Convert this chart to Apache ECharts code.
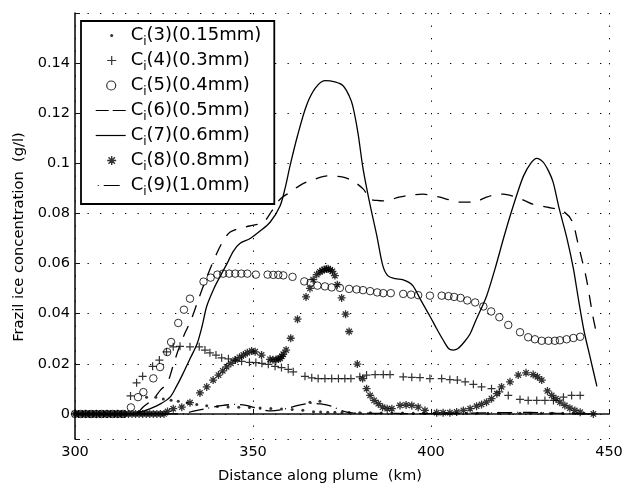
<!DOCTYPE html>
<html>
<head>
<meta charset="utf-8">
<script src="https://cdn.jsdelivr.net/npm/echarts@6.0.0/dist/echarts.min.js"></script>
<style>
  html, body { margin: 0; padding: 0; background: #fff; }
  #chart { width: 643px; height: 492px; }
</style>
</head>
<body>
<div id="chart"></div>
<script>
// legend labels (after the "C" + subscript "i")
const labels = ['(3)(0.15mm)', '(4)(0.3mm)', '(5)(0.4mm)', '(6)(0.5mm)', '(7)(0.6mm)', '(8)(0.8mm)', '(9)(1.0mm)'];

// [distance km, concentration g/l]
const c3 = [[300,0],[301,0],[302,0],[303,0],[304,0],[305,0],[306,0],[307,0],[308,0],[309,0],[310,0],[311,0],[312,0],[313,0],[314,0],[315,0],[316,0],[317,0],[318,0.001],
  [320.1,0.0067],[322.7,0.0067],[324.8,0.006],[327,0.0055],[329,0.0051],[331.5,0.0045],[334.2,0.0038],[337,0.0033],[340,0.003],[343,0.0028],[346,0.0027],[349,0.0026],
  [352,0.0024],[355,0.0022],[358,0.002],[361,0.0018],[364,0.0015],[366,0.0047],[368.8,0.0051],[367,0.0009],[369,0.0008],[371,0.0007],[373,0.0007],[375,0.0006],
  [377,0.0006],[380,0.0005],[383,0.0005],[386,0.0004],[389,0.0004],[392,0.0004],[395,0.0003],[398,0.0003],[401,0.0003],[404,0.0003],[407,0.0003],[410,0.0003],
  [413,0.0003],[416,0.0003],[419,0.0003],[422,0.0003],[425,0.0003],[428,0.0003],[431,0.0003],[434,0.0003],[437,0.0003],[440,0.0003],[443,0.0003]];

const c4 = [[300,0],[301,0],[302,0],[303,0],[304,0],[305,0],[306,0],[307,0],[308,0],[309,0],[310,0],[311,0],[312,0],[313,0],[314,0],
  [315.6,0.0072],[317.3,0.0124],[319,0.015],[321.8,0.019],[323.7,0.0215],[325.7,0.0248],[327.6,0.0268],[329.5,0.027],[332.3,0.0268],[334.9,0.0268],
  [336.5,0.0255],[337.9,0.0244],[339.6,0.0235],[341.2,0.0224],[343.1,0.022],[345,0.0215],[346.8,0.021],[349,0.0206],[350.8,0.0205],[352.5,0.0202],
  [354.3,0.0198],[356.2,0.019],[358,0.0185],[359.9,0.0178],[361.3,0.0168],[364.6,0.015],[366.5,0.0144],[368.3,0.0141],[370.2,0.0141],[372.1,0.0141],
  [374,0.0141],[375.8,0.0141],[377.5,0.0141],[380,0.0148],[381.9,0.0155],[384.3,0.0157],[386.6,0.0157],[388.5,0.0157],[392.2,0.0148],[394.6,0.0146],
  [396.9,0.0145],[399.7,0.0141],[403,0.0141],[405.3,0.0137],[407.4,0.0135],[409.6,0.0128],[411.9,0.0118],[414.2,0.0108],[417,0.0101],[419.2,0.0088],
  [421.7,0.0074],[425,0.0058],[427.3,0.0054],[429.7,0.0054],[432,0.0054],[434.4,0.0054],[437.2,0.0067],[439.5,0.0074],[441.9,0.0074]];

const c5 = [[300,0],[301.5,0],[303,0],[304.5,0],[306,0],[307.5,0],[309,0],[310.5,0],[312,0],[313.5,0],
  [315.7,0.0026],[317.7,0.0067],[319.2,0.0087],[322,0.0142],[323.9,0.0187],[325.9,0.0247],[327,0.0287],[329,0.0363],[330.6,0.0416],[332.3,0.046],
  [336.1,0.0528],[338.1,0.0544],[340,0.0556],[341.6,0.056],[343.3,0.056],[345,0.056],[346.7,0.056],[348.4,0.056],[350.8,0.0556],[354.1,0.0556],
  [355.7,0.0555],[357.1,0.0555],[358.5,0.0553],[361.1,0.0547],[364.4,0.0529],[366.2,0.0524],[368.1,0.0512],[370.2,0.0509],[372.1,0.0505],[374.4,0.0503],
  [377,0.0499],[379.1,0.0497],[380.9,0.0494],[382.9,0.049],[384.9,0.0485],[386.6,0.0482],[388.7,0.0482],[392.2,0.0479],[394.4,0.0476],[396.4,0.0474],
  [399.7,0.0472],[403,0.0472],[404.9,0.047],[406.5,0.0467],[408.3,0.0463],[410.2,0.0453],[412.4,0.0445],[414.7,0.0429],[416.9,0.0409],[419.2,0.0386],
  [421.7,0.0355],[425,0.0326],[427.3,0.0306],[429.2,0.0298],[431.1,0.0292],[433,0.0292],[434.8,0.0292],[436.2,0.0294],[438.1,0.0298],[440,0.0303],[441.9,0.0308]];

const c6 = [[300,0],[310,0],[317,0],[319,0.0026],[322,0.006],[324,0.0095],[326,0.0126],[327.5,0.019],[329,0.0255],[330.8,0.032],[332.6,0.0375],
  [334.5,0.045],[336.3,0.052],[338,0.058],[339.8,0.064],[341.6,0.069],[343.5,0.0725],[346,0.074],[349,0.075],[352.9,0.0765],[355.3,0.081],[357.6,0.0857],
  [360.4,0.0885],[363,0.091],[365,0.0925],[368,0.094],[370.8,0.095],[375.3,0.0945],[378,0.093],[381,0.0897],[382.9,0.0857],[384.8,0.0852],[386.5,0.085],
  [388,0.0852],[391,0.0865],[394,0.0873],[397.8,0.0877],[400,0.0872],[402.5,0.0865],[405,0.0855],[408,0.0845],[411.8,0.0845],[415.6,0.0865],[418,0.0875],
  [420.2,0.0877],[422,0.0873],[424,0.0865],[426.5,0.085],[428.6,0.0837],[432.6,0.0825],[437,0.081],[439.6,0.077],[441.3,0.068],[442.5,0.061],
  [443.7,0.0536],[445.5,0.0388],[446.2,0.034]];

const c7 = [[300,0],[310,0],[316,0],[319,0.001],[321,0.002],[324,0.004],[326.7,0.0067],[328.5,0.011],[330.3,0.016],[332.3,0.022],[334.3,0.028],
  [335.7,0.035],[337,0.043],[339,0.05],[340.8,0.055],[342.7,0.06],[344.5,0.065],[346.3,0.068],[349.2,0.07],[352,0.073],[354.8,0.0765],[357.6,0.083],
  [359,0.09],[360.4,0.099],[362.5,0.111],[365,0.123],[367.5,0.13],[370.2,0.133],[373,0.1325],[375.3,0.131],[377,0.127],[378,0.123],[379.5,0.112],
  [380.9,0.098],[382.8,0.084],[384.8,0.071],[386.5,0.059],[388,0.055],[390,0.054],[392,0.0536],[393.8,0.0525],[395,0.051],[397.3,0.045],[399.7,0.039],
  [401.6,0.034],[403.4,0.0295],[405,0.026],[406.2,0.0255],[407.5,0.026],[409.5,0.029],[411,0.032],[412.5,0.037],[415.6,0.047],[418,0.058],[420.3,0.0697],
  [422,0.078],[424,0.087],[426,0.095],[428,0.1],[429.7,0.102],[431.5,0.1005],[433,0.097],[434.3,0.0925],[436,0.082],[438.2,0.07],[440,0.058],
  [441.5,0.045],[443,0.033],[444.8,0.022],[446.6,0.011]];

const c8 = [[300,0],[301,0],[302,0],[303,0],[304,0],[305,0],[306,0],[307,0],[308,0],[309,0],[310,0],[311,0],[312,0],[313,0],[314,0],[315,0],[316,0],
  [317,0],[318,0],[319,0],[320,0],[321,0],[322,0],[323,0],[324,0],[325,0],[326,0.001],[327.6,0.0021],[330,0.0027],[332.3,0.0045],[335.1,0.0084],[337,0.0108],
  [338.8,0.0135],[340.3,0.0155],[341.5,0.0172],[342.6,0.0188],[343.8,0.0202],[345,0.0215],[346.2,0.0226],[347.3,0.0235],[348.4,0.0244],[349.6,0.0251],
  [350.6,0.0248],[352.4,0.0235],[354.8,0.0218],[355.6,0.0216],[356.5,0.0217],[357.1,0.0219],[357.6,0.0222],[358.1,0.023],[358.5,0.0238],[359.3,0.0255],
  [360.6,0.0302],[362.5,0.0378],[364.9,0.0467],[366,0.0501],[366.9,0.0536],[367.9,0.0556],[368.8,0.0567],[369.4,0.0572],[370,0.0576],[370.6,0.0578],
  [371.1,0.0579],[371.7,0.0575],[372.3,0.0569],[373,0.0552],[373.7,0.0516],[374.9,0.0463],[376,0.0398],[377,0.0329],[379.3,0.0199],[380.8,0.0141],
  [381.9,0.0101],[382.9,0.0074],[384,0.0054],[385.2,0.0041],[386.4,0.0027],[387.7,0.0021],[389,0.0021],[391.3,0.0034],[393,0.0036],[394.6,0.0034],
  [396.4,0.0027],[398.3,0.0014],[401.6,0.0005],[403.4,0.0005],[405.3,0.0005],[407.2,0.0008],[409.1,0.0014],[411,0.0021],[412.8,0.0031],[414.2,0.0038],
  [415.6,0.0047],[417,0.0061],[418.5,0.0081],[419.8,0.0108],[422.2,0.0128],[424.5,0.0155],[426.7,0.0164],[428.7,0.0157],[429.9,0.0148],[431.1,0.0135],
  [432.7,0.0092],[433.9,0.0074],[435.1,0.0061],[436.2,0.0047],[437.6,0.0034],[439,0.0023],[440.4,0.0014],[441.9,0.0007],[445.6,0]];

const c9 = [[300,0],[330,0],[333,0.001],[337,0.0022],[341.6,0.0034],[345,0.0038],[348,0.0034],[352.4,0.0018],[355,0.0012],[358.4,0.0018],[362.6,0.0034],
  [366,0.0042],[369,0.004],[372,0.0031],[375.3,0.0011],[378,0.0004],[390,0.0002],[400,0.0001],[410,0.0003],[420,0.0005],[425,0.0006],[430,0.0005],
  [435,0.0003],[440,0.0002],[445,0]];

const FONT = 'DejaVu Sans';
const plusPath = 'path://M0,5L10,5M5,0L5,10';
const starPath = 'path://M5,0L5,10M0,5L10,5M1.6,1.6L8.4,8.4M1.6,8.4L8.4,1.6';

// legend icons drawn in a 30x14 box
const icons = [
  'path://M0,0M30,14M14.5,7A1.5,1.5,0,1,1,17.5,7A1.5,1.5,0,1,1,14.5,7Z',
  'path://M0,0M30,14M11.5,7L20.5,7M16,2.5L16,11.5',
  'path://M0,0M30,14M11,7A4.5,4.5,0,1,1,20,7A4.5,4.5,0,1,1,11,7Z',
  'path://M0,0M30,14M0,7L13,7M17,7L30,7',
  'path://M0,0M30,14M0,7L30,7',
  'path://M0,0M30,14M16,2.5L16,11.5M11.5,7L20.5,7M12.8,3.8L19.2,10.2M12.8,10.2L19.2,3.8',
  'path://M0,0M30,14M2,7L3,7M8,7L24,7'
];
const iconStyles = [
  { color: '#000', borderWidth: 0 },
  { color: 'transparent', borderColor: '#000', borderWidth: 1.2 },
  { color: 'transparent', borderColor: '#000', borderWidth: 1.2 },
  { color: 'transparent', borderColor: '#000', borderWidth: 1.2 },
  { color: 'transparent', borderColor: '#000', borderWidth: 1.2 },
  { color: 'transparent', borderColor: '#000', borderWidth: 1.4 },
  { color: 'transparent', borderColor: '#000', borderWidth: 1.2 }
];

const chart = echarts.init(document.getElementById('chart'), null, { renderer: 'canvas' });

const hollow = { color: 'transparent', borderColor: '#000', borderWidth: 1 };
const gridDots = { color: '#000', width: 1, type: [1.3, 11.2] };

const option = {
  animation: false,
  backgroundColor: '#fff',
  grid: { left: 75, right: 34, top: 13, bottom: 53 },
  legend: {
    orient: 'vertical',
    left: 81,
    top: 21,
    itemWidth: 30,
    itemHeight: 14,
    itemGap: 0,
    padding: [2, 13, 6, 14],
    borderColor: '#000',
    borderWidth: 1.8,
    backgroundColor: '#fff',
    selectedMode: false,
    data: labels.map((name, i) => ({ name, icon: icons[i], itemStyle: iconStyles[i] })),
    formatter: (name) => '{c|C}{s|i}{c|' + name + '}',
    textStyle: {
      color: '#000',
      fontFamily: FONT,
      fontSize: 18,
      lineHeight: 25,
      rich: {
        c: { fontFamily: FONT, fontSize: 18, lineHeight: 25, color: '#000' },
        s: { fontFamily: FONT, fontSize: 12, lineHeight: 12, verticalAlign: 'bottom', color: '#000' }
      }
    }
  },
  xAxis: {
    type: 'value',
    min: 300,
    max: 450,
    interval: 50,
    name: 'Distance along plume  (km)',
    nameLocation: 'middle',
    nameGap: 30,
    nameTextStyle: { fontFamily: FONT, fontSize: 14.7, color: '#000', padding: [0, 44, 0, 0] },
    axisLine: { lineStyle: { color: '#111', width: 1.6 } },
    axisTick: { inside: true, length: 5, lineStyle: { color: '#111' } },
    axisLabel: { fontFamily: FONT, fontSize: 14.5, color: '#000', margin: 6 },
    splitLine: { show: true, lineStyle: gridDots }
  },
  yAxis: {
    type: 'value',
    min: -0.01,
    max: 0.16,
    splitNumber: 8,
    name: 'Frazil ice concentration  (g/l)',
    nameLocation: 'middle',
    nameGap: 44,
    nameTextStyle: { fontFamily: FONT, fontSize: 14.7, color: '#000', padding: [0, 22, 0, 0] },
    axisLine: { show: true, lineStyle: { color: '#111', width: 1.6 } },
    axisTick: { show: true, inside: true, length: 5, lineStyle: { color: '#111' } },
    axisLabel: {
      fontFamily: FONT, fontSize: 14.5, color: '#000', margin: 5,
      formatter: (v) => {
        const k = Math.round(v / 0.02);
        if (Math.abs(v - k * 0.02) > 1e-6 || k < 0 || k > 7) return '';
        return String(+(k * 0.02).toFixed(2));
      }
    },
    splitLine: { show: true, lineStyle: gridDots }
  },
  series: [
    { name: labels[0], type: 'scatter', data: c3, symbol: 'circle', symbolSize: 3, itemStyle: { color: '#000' } },
    { name: labels[1], type: 'scatter', data: c4, symbol: plusPath, symbolSize: 8, itemStyle: { color: 'transparent', borderColor: '#000', borderWidth: 1.2 } },
    { name: labels[2], type: 'scatter', data: c5, symbol: 'circle', symbolSize: 7.5, itemStyle: hollow },
    { name: labels[3], type: 'line', data: c6, symbol: 'none', smooth: 0.3, itemStyle: { color: '#000' },
      lineStyle: { color: '#000', width: 1.3, type: [12, 10] } },
    { name: labels[4], type: 'line', data: c7, symbol: 'none', smooth: 0.3, itemStyle: { color: '#000' },
      lineStyle: { color: '#000', width: 1.3 } },
    { name: labels[5], type: 'scatter', data: c8, symbol: starPath, symbolSize: 8, itemStyle: { color: 'transparent', borderColor: '#000', borderWidth: 1.3 } },
    { name: labels[6], type: 'line', data: c9, symbol: 'none', smooth: 0.3, itemStyle: { color: '#000' },
      lineStyle: { color: '#000', width: 1.3, type: [15, 5, 1, 5], dashOffset: 16 } }
  ]
};

chart.setOption(option);
</script>
</body>
</html>
